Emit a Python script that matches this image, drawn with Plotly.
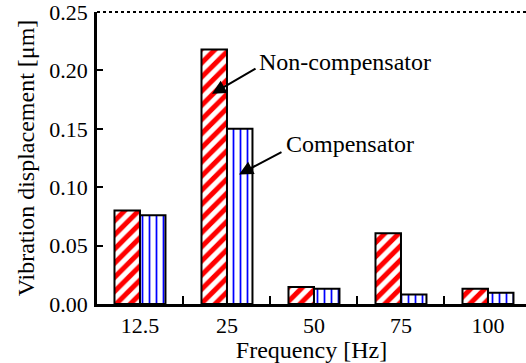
import plotly.graph_objects as go

categories = ["12.5", "25", "50", "75", "100"]
non_compensator = [0.080, 0.218, 0.0145, 0.0605, 0.013]
compensator = [0.076, 0.150, 0.013, 0.0082, 0.0096]
y_ticks = [0.00, 0.05, 0.10, 0.15, 0.20, 0.25]

FONT = "Liberation Serif, Times New Roman, serif"

fig = go.Figure()
fig.add_trace(go.Bar(
    x=categories, y=non_compensator, name="Non-compensator",
    marker=dict(color="white", line=dict(color="black", width=2),
                pattern=dict(shape="/", fgcolor="red", bgcolor="white", fgopacity=1,
                             size=10, solidity=0.5)),
))
fig.add_trace(go.Bar(
    x=categories, y=compensator, name="Compensator",
    marker=dict(color="white", line=dict(color="black", width=2),
                pattern=dict(shape="|", fgcolor="blue", bgcolor="white", fgopacity=1,
                             size=7, solidity=0.25)),
))

fig.update_layout(
    width=526, height=363,
    margin=dict(l=97, r=0, t=10, b=59),
    paper_bgcolor="white", plot_bgcolor="white",
    showlegend=False,
    barmode="group", bargap=0.414, bargroupgap=0,
    font=dict(family=FONT, color="black", size=22),
    xaxis=dict(
        type="category", range=[-0.494, 4.437],
        tickson="boundaries", ticks="inside", ticklen=8, tickwidth=2, tickcolor="black",
        showline=True, linecolor="black", linewidth=2.5,
        showgrid=False, zeroline=False,
        tickfont=dict(family=FONT, size=22),
        title=dict(text="Frequency [Hz]", font=dict(family=FONT, size=24), standoff=0),
    ),
    yaxis=dict(
        range=[0, 0.2501], tickvals=y_ticks, tickformat=".2f",
        ticks="inside", ticklen=6, tickwidth=2, tickcolor="black",
        showline=True, linecolor="black", linewidth=2.5,
        showgrid=False, zeroline=False,
        tickfont=dict(family=FONT, size=22),
        ticklabelstandoff=2, ticklabeloverflow="allow",
        title=dict(text="Vibration displacement [\u03bcm]", font=dict(family=FONT, size=24), standoff=8),
    ),
)

# dotted top border
fig.add_shape(type="line", xref="paper", yref="paper", x0=0, x1=1, y0=1, y1=1,
              line=dict(color="black", width=2, dash="dot"))

# annotations
fig.add_annotation(x=0.828, y=0.180, ax=45, ay=-26, text="", showarrow=True,
                   arrowhead=2, arrowsize=1.4, arrowwidth=2, arrowcolor="black")
fig.add_annotation(x=1.138, y=0.111, ax=44, ay=-23, text="", showarrow=True,
                   arrowhead=2, arrowsize=1.4, arrowwidth=2, arrowcolor="black")
fig.add_annotation(x=1.345, y=0.2075, text="Non-compensator", showarrow=False,
                   xanchor="left", yanchor="middle", font=dict(family=FONT, size=24))
fig.add_annotation(x=1.655, y=0.137, text="Compensator", showarrow=False,
                   xanchor="left", yanchor="middle", font=dict(family=FONT, size=24))

fig.write_html("out.html", config={"displayModeBar": False},
               post_script="document.body.style.margin='0';document.body.style.overflow='hidden';")
